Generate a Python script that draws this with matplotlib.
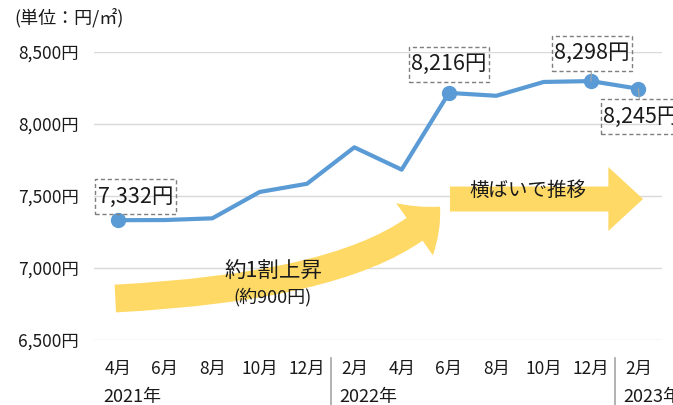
import matplotlib
matplotlib.use("Agg")
import matplotlib.pyplot as plt
from matplotlib.patches import FancyArrowPatch, ArrowStyle
from matplotlib.path import Path
from matplotlib.transforms import blended_transform_factory

plt.rcParams["font.family"] = ["Noto Sans CJK JP", "DejaVu Sans"]

# data
months = ["4月", "6月", "8月", "10月", "12月", "2月",
          "4月", "6月", "8月", "10月", "12月", "2月"]
years = ["2021年", "2022年", "2023年"]
prices = [7332, 7333, 7345, 7528, 7585, 7838, 7683, 8216, 8196, 8292, 8298, 8245]
yticks = [6500, 7000, 7500, 8000, 8500]
ytick_labels = ["6,500円", "7,000円", "7,500円", "8,000円", "8,500円"]
labelled = [0, 7, 10, 11]

LINE = "#5B9BD5"
ARROW = "#FFD966"
TEXT = "#1a1a1a"


def label_box(x0, y0, width, height, mutation_size):
    # wider vertical padding than horizontal, like the Excel label boxes
    px, py = 0.12 * mutation_size, 0.30 * mutation_size
    x0, y0 = x0 - px, y0 - py
    x1, y1 = x0 + width + 2 * px, y0 + height + 2 * py
    return Path([(x0, y0), (x1, y0), (x1, y1), (x0, y1), (x0, y0)], closed=True)


fig = plt.figure(figsize=(6.73, 4.05), dpi=100)
ax = fig.add_axes([94 / 673, 65 / 405, 568 / 673, 288 / 405])

x = list(range(len(months)))
ax.plot(x, prices, color=LINE, linewidth=3.0, zorder=4, solid_joinstyle="round")
ax.plot([x[i] for i in labelled], [prices[i] for i in labelled], "o",
        color=LINE, markersize=10, zorder=5)

ax.set_xlim(-0.5, len(months) - 0.5)
ax.set_ylim(yticks[0], yticks[-1])
ax.set_yticks(yticks)
ax.set_yticklabels(ytick_labels, fontsize=12.5, color=TEXT)
ax.set_xticks(x)
ax.set_xticklabels(months, fontsize=12.5, color=TEXT)
ax.tick_params(axis="y", length=0, pad=11)
ax.tick_params(axis="x", length=0, pad=14)
ax.grid(axis="y", color="#d9d9d9", linewidth=1.0, zorder=0)
for side in ax.spines.values():
    side.set_visible(False)

# year row and category separators
trans = blended_transform_factory(ax.transData, ax.transAxes)
for i, yr in enumerate(years):
    start = [-0.5, 4.5, 10.5][i]
    ax.text(start + 0.19, -0.198, yr, transform=trans, fontsize=13,
            color=TEXT, ha="left", va="center", clip_on=False)
    if i > 0:
        ax.plot([start, start], [-0.0625, -0.25], transform=trans,
                color="#a6a6a6", linewidth=1.2, clip_on=False)

# data labels in dashed boxes
offsets = {0: (13, 17), 7: (0, 20.5), 10: (0.7, 20), 11: (2, -20)}
for i in labelled:
    kw = {}
    if i in (10, 11):
        kw["arrowprops"] = dict(arrowstyle="-", color="#a6a6a6", lw=0.8,
                                shrinkA=0, shrinkB=0)
    ax.annotate(f"{prices[i]:,}円", (x[i], prices[i]), xytext=offsets[i],
                textcoords="offset points", ha="center", va="center",
                fontsize=15.5, color=TEXT, zorder=6, annotation_clip=False,
                bbox=dict(boxstyle=label_box, fc="none",
                          ec="#7f7f7f", lw=1.0, ls=(0, (3, 2))),
                **kw)

# rising curved arrow
rise = FancyArrowPatch((-0.05, 6788), (6.81, 7426),
                       arrowstyle=ArrowStyle.Simple(head_length=24.5, head_width=46,
                                                    tail_width=20),
                       connectionstyle="angle3,angleA=3,angleB=49",
                       mutation_scale=1, shrinkA=0, shrinkB=0,
                       color=ARROW, lw=0, zorder=2)
ax.add_patch(rise)

# flat arrow
flat = FancyArrowPatch((7.02, 7479), (11.10, 7479),
                       arrowstyle=ArrowStyle.Simple(head_length=25, head_width=46,
                                                    tail_width=18),
                       mutation_scale=1, shrinkA=0, shrinkB=0,
                       color=ARROW, lw=0, zorder=2, clip_on=False)
ax.add_patch(flat)

ax.text(3.30, 6972, "約1割上昇", fontsize=15.5, color=TEXT,
        ha="center", va="center", zorder=3)
ax.text(3.28, 6799, "(約900円)", fontsize=13, color=TEXT,
        ha="center", va="center", zorder=3)
ax.text(8.66, 7542, "横ばいで推移", fontsize=14, color=TEXT,
        ha="center", va="center", zorder=3)

fig.text(14 / 673, 1 - 18 / 405, "(単位：円/㎡)", fontsize=13, color=TEXT,
         ha="left", va="center")

fig.savefig("out.png", dpi=100)
